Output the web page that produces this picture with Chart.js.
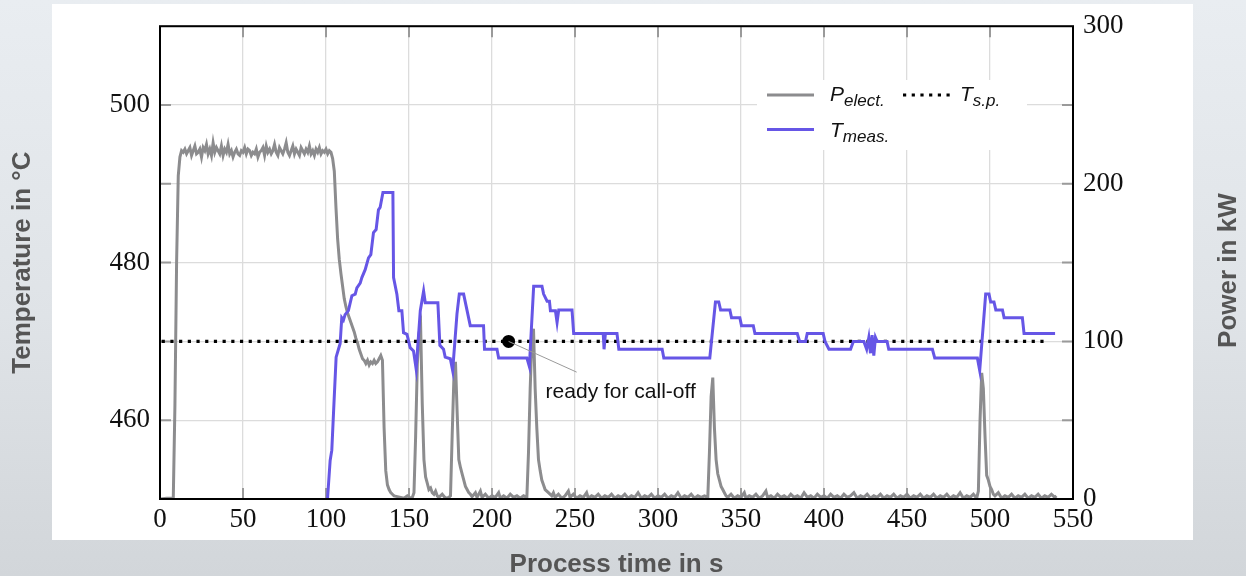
<!DOCTYPE html>
<html>
<head>
<meta charset="utf-8">
<script src="https://cdn.jsdelivr.net/npm/chart.js@4.4.1/dist/chart.umd.min.js"></script>
<style>
  html, body { margin: 0; padding: 0; }
  body {
    width: 1246px; height: 576px; overflow: hidden; position: relative;
    background: linear-gradient(to bottom, #e9edf1 0%, #dfe3e7 55%, #d2d6da 100%);
  }
  #panel { position: absolute; left: 52px; top: 4px; width: 1141px; height: 536px; background: #fff; }
  #chart { position: absolute; left: 0; top: 0; }
</style>
</head>
<body>
<div id="panel"></div>
<canvas id="chart" width="1246" height="576"></canvas>
<script>
// tick values
const timeTicks = [0, 50, 100, 150, 200, 250, 300, 350, 400, 450, 500, 550];
const tempTicks = [460, 470, 480, 490, 500];
const tempLabels = [460, 480, 500];
const powerTicks = [50, 100, 150, 200, 250];
const powerLabels = [0, 100, 200, 300];

// electrical power in kW, [time s, P]
const powerElect = [
  [0, 0], [4, 0.5], [8, 0.5], [9, 60], [10, 150], [11, 205], [12, 217], [13, 221],
  [14, 220], [15, 222], [16, 219], [17, 221], [18, 223], [19, 218], [20, 221], [21, 224], [22, 219], [23, 220],
  [24, 222], [25, 217], [26, 223], [27, 221], [28, 225], [29, 219], [30, 222], [31, 218], [32, 226], [33, 220],
  [34, 223], [35, 221], [36, 219], [37, 224], [38, 218], [39, 222], [40, 220], [41, 225], [42, 219], [43, 221],
  [44, 217], [45, 220], [46, 222], [47, 219], [48, 218], [49, 221], [50, 220], [51, 223], [52, 219], [53, 222],
  [54, 221], [55, 218], [56, 220], [57, 219], [58, 222], [59, 217], [60, 220], [61, 221], [62, 223], [63, 218],
  [64, 224], [65, 220], [66, 222], [67, 219], [68, 221], [69, 225], [70, 220], [71, 218], [72, 223], [73, 221],
  [74, 219], [75, 222], [76, 226], [77, 220], [78, 218], [79, 221], [80, 224], [81, 219], [82, 222], [83, 220],
  [84, 218], [85, 223], [86, 221], [87, 219], [88, 222], [89, 220], [90, 224], [91, 219], [92, 221], [93, 218],
  [94, 222], [95, 220], [96, 223], [97, 219], [98, 221], [99, 220], [100, 222], [101, 219], [102, 221], [103, 220],
  [104, 216], [105, 208], [106, 185], [107, 165], [108, 152], [109, 143], [110, 135], [111, 127], [112, 122],
  [113, 118], [114, 115], [115, 112], [116, 109], [117, 106], [118, 102], [119, 99], [120, 95], [121, 92],
  [122, 89], [123, 88], [124, 86], [125, 88], [126, 85], [127, 87], [128, 86], [129, 88], [130, 86], [131, 87],
  [132, 89], [133, 91], [134, 88], [135, 45], [136, 18], [137, 9], [138, 6], [139, 4], [140, 3], [141, 2],
  [143, 1.5], [145, 1], [147, 0.5], [149, 2], [151, 0.5], [152, 1], [153, 4],
  [154, 40], [155, 85], [156, 105], [157, 110], [158, 60], [159, 25], [160, 14], [161, 10], [162, 6], [163, 7],
  [164, 4], [165, 3], [166, 5], [167, 2], [168, 1], [170, 3], [172, 0.5], [174, 1], [175, 2],
  [176, 40], [177, 75], [178, 87], [179, 55], [180, 25], [181, 20], [182, 16], [183, 12], [184, 8], [185, 6],
  [186, 4], [187, 3], [188, 1.5], [190, 4], [191, 1], [193, 5], [194, 1], [196, 3], [198, 0.5], [200, 2],
  [202, 1], [204, 4], [205, 0.5], [207, 2], [209, 0.5], [211, 3], [213, 1], [215, 2], [217, 0.5], [219, 2], [221, 1],
  [222, 30], [223, 70], [224, 100], [225, 108], [226, 70], [227, 45], [228, 25], [229, 18], [230, 12], [231, 9],
  [232, 6], [233, 5], [234, 4], [236, 2], [237, 4], [238, 1],
  [240, 3], [242, 0.5], [244, 2], [246, 5], [247, 1], [249, 3], [251, 0.5], [253, 2], [255, 1], [257, 4],
  [258, 0.5], [260, 2], [262, 1], [264, 3], [266, 0.5], [268, 2], [270, 1], [272, 3], [274, 0.5], [276, 2],
  [278, 1], [280, 3], [282, 0.5], [284, 2], [286, 1], [288, 4], [290, 0.5], [292, 2], [294, 1], [296, 3],
  [298, 0.5], [300, 2], [302, 1], [304, 3], [306, 0.5], [308, 2], [310, 1], [312, 4], [314, 0.5], [316, 2],
  [318, 1], [320, 3], [322, 0.5], [324, 2], [326, 1], [328, 2], [330, 1],
  [331, 30], [332, 65], [333, 77], [334, 45], [335, 25], [336, 16], [337, 12], [338, 8], [339, 6], [340, 4],
  [341, 2], [342, 1],
  [344, 3], [346, 0.5], [348, 2], [350, 1], [352, 4], [353, 0.5], [355, 2], [357, 1], [359, 3], [361, 0.5],
  [363, 2], [365, 5], [366, 1], [368, 2], [370, 0.5], [372, 3], [374, 1], [376, 2], [378, 0.5], [380, 3],
  [382, 1], [384, 2], [386, 0.5], [388, 4], [390, 1], [392, 2], [394, 0.5], [396, 3], [398, 1], [400, 2],
  [402, 0.5], [404, 3], [406, 1], [408, 2], [410, 0.5], [412, 3], [414, 1], [416, 2], [418, 4], [420, 0.5],
  [422, 2], [424, 1], [426, 3], [428, 0.5], [430, 2], [432, 1], [434, 3], [436, 0.5], [438, 2], [440, 1],
  [442, 3], [444, 0.5], [446, 2], [448, 1], [450, 3], [452, 0.5], [454, 2], [456, 1], [458, 3], [460, 0.5],
  [462, 2], [464, 1], [466, 3], [468, 0.5], [470, 2], [472, 1], [474, 3], [476, 0.5], [478, 2], [480, 1],
  [482, 4], [484, 0.5], [486, 2], [488, 1], [490, 3], [492, 0.5],
  [493, 5], [494, 50], [495, 80], [496, 70], [497, 40], [498, 15], [499, 12], [500, 8], [501, 6], [502, 3], [503, 2],
  [505, 4], [507, 0.5], [509, 2], [511, 1], [513, 3], [515, 0.5], [517, 2], [519, 1], [521, 3], [523, 0.5],
  [525, 2], [527, 1], [529, 3], [531, 0.5], [533, 2], [535, 1], [537, 3], [539, 1], [540, 2]
];

// measured temperature in °C, [time s, T]
const tempMeas = [
  [100.9, 450], [102.5, 454.9], [103.5, 456.2], [104.5, 460.8], [106.1, 468], [107.5, 469], [108.5, 469.7],
  [109.5, 473], [110.5, 472.7], [111.5, 473.4], [113.5, 473.9], [115.6, 475.8], [117.6, 476], [118.6, 476.8],
  [120.6, 477.4], [121.6, 478.1], [123.6, 479.1], [125.6, 480.6], [127, 481], [128.6, 483.8], [130.2, 484.2],
  [131.6, 486.7], [132.6, 487], [134.3, 488.9], [140.3, 488.9], [140.7, 478.1], [142.7, 476], [143.9, 473.9],
  [145.7, 473.9], [146.7, 471.1], [148.8, 470.9], [150.7, 469.2], [152.7, 468.8], [154.3, 466.5], [156.8, 473.9],
  [158.8, 476.4], [159.8, 474.9], [167.4, 474.9], [168.6, 469.5], [170.8, 469], [171.8, 468], [174.9, 467.8],
  [176.3, 466.3], [178.9, 473.5], [180.3, 476], [182.9, 476], [186.9, 472], [194.9, 472], [195.5, 469],
  [203, 469], [204, 467.9], [221, 467.9], [222.5, 466.8], [225.1, 477], [230.1, 477], [231.1, 476],
  [233.2, 475.1], [234.6, 475.1], [235.2, 473.9], [238.2, 473.9], [239.2, 472.4], [240.2, 474], [248.2, 474],
  [249.2, 471], [267, 471], [267.5, 469], [268.3, 471], [275.3, 471], [276.4, 469], [302.5, 469], [303.5, 467.9],
  [331.2, 467.9], [334.6, 475], [336.6, 475], [337.7, 474], [343.3, 474], [344.3, 473], [349.3, 473],
  [350.3, 472], [357.4, 472], [358.4, 471], [383.9, 471], [385.3, 470], [388.9, 470], [389.9, 471],
  [399.5, 471], [400.6, 470], [403, 469], [416, 469], [417.7, 470], [424, 470], [425.7, 469], [427, 470.5],
  [428, 468.5], [429, 470.8], [430, 468.2], [431, 470.5], [432, 470], [438, 470], [439, 469], [465.3, 469],
  [466.7, 467.9], [492.4, 467.9], [493.8, 466.3], [497.4, 476], [499.4, 476], [500.4, 475], [502.4, 475],
  [503.5, 474], [507.5, 474], [508.5, 473], [519.5, 473], [520.5, 471], [539.2, 471]
];

// set point temperature
const tempSetPoint = [[1, 470], [535, 470]];

// "ready for call-off" marker
const readyPoint = [210, 470];

const toXY = arr => arr.map(([x, y]) => ({ x, y }));

const GRAY = '#8c8c8e';
const BLUE = '#6656e6';
const SERIF = '"Liberation Serif", "Times New Roman", serif';
const SANS = '"Liberation Sans", Arial, sans-serif';

const overlay = {
  id: 'overlay',
  beforeDatasetsDraw(chart) {
    const { ctx, chartArea: a, scales } = chart;
    ctx.save();
    ctx.strokeStyle = '#9a9a9a';
    ctx.lineWidth = 2;
    ctx.beginPath();
    timeTicks.forEach(v => {
      const px = scales.x.getPixelForValue(v);
      ctx.moveTo(px, a.bottom); ctx.lineTo(px, a.bottom - 11);
      ctx.moveTo(px, a.top); ctx.lineTo(px, a.top + 11);
    });
    tempTicks.forEach(v => {
      const py = scales.yT.getPixelForValue(v);
      ctx.moveTo(a.left, py); ctx.lineTo(a.left + 11, py);
    });
    powerTicks.forEach(v => {
      const py = scales.yP.getPixelForValue(v);
      ctx.moveTo(a.right, py); ctx.lineTo(a.right - 11, py);
    });
    ctx.stroke();
    ctx.restore();
  },
  afterDatasetsDraw(chart) {
    const { ctx, chartArea: a, scales } = chart;
    ctx.save();

    // annotation
    const dx = scales.x.getPixelForValue(readyPoint[0]);
    const dy = scales.yT.getPixelForValue(readyPoint[1]);
    ctx.strokeStyle = '#9a9a9a';
    ctx.lineWidth = 1;
    ctx.beginPath();
    ctx.moveTo(dx, dy);
    ctx.lineTo(scales.x.getPixelForValue(251), scales.yT.getPixelForValue(466.1));
    ctx.stroke();
    ctx.fillStyle = '#111';
    ctx.font = '21px ' + SANS;
    ctx.textBaseline = 'middle';
    ctx.textAlign = 'left';
    ctx.fillText('ready for call-off', scales.x.getPixelForValue(232.3), scales.yT.getPixelForValue(463.6));

    // frame
    ctx.strokeStyle = '#000';
    ctx.lineWidth = 2;
    ctx.strokeRect(a.left, a.top, a.right - a.left, a.bottom - a.top);

    // legend
    ctx.fillStyle = '#fff';
    ctx.fillRect(757, 80, 270, 70);
    ctx.lineWidth = 3;
    ctx.strokeStyle = GRAY;
    ctx.beginPath(); ctx.moveTo(767, 95); ctx.lineTo(814, 95); ctx.stroke();
    ctx.strokeStyle = BLUE;
    ctx.beginPath(); ctx.moveTo(767, 129.5); ctx.lineTo(814, 129.5); ctx.stroke();
    ctx.strokeStyle = '#000';
    ctx.lineWidth = 3.2;
    ctx.setLineDash([3.2, 5.5]);
    ctx.beginPath(); ctx.moveTo(903, 95); ctx.lineTo(952, 95); ctx.stroke();
    ctx.setLineDash([]);

    ctx.fillStyle = '#111';
    ctx.textBaseline = 'alphabetic';
    const sym = (main, sub, x, y) => {
      ctx.font = 'italic 21px ' + SANS;
      ctx.fillText(main, x, y);
      const w = ctx.measureText(main).width;
      ctx.font = 'italic 17px ' + SANS;
      ctx.fillText(sub, x + w, y + 5.5);
    };
    sym('P', 'elect.', 830, 100.5);
    sym('T', 's.p.', 960, 100.5);
    sym('T', 'meas.', 830, 136.5);

    // right axis title, reading bottom to top
    ctx.translate(1229, (a.top + a.bottom) / 2 + 8);
    ctx.rotate(-Math.PI / 2);
    ctx.fillStyle = '#555';
    ctx.font = 'bold 26px ' + SANS;
    ctx.textAlign = 'center';
    ctx.textBaseline = 'middle';
    ctx.fillText('Power in kW', 0, 0);
    ctx.restore();
  }
};

new Chart(document.getElementById('chart'), {
  type: 'line',
  data: {
    datasets: [
      {
        label: 'ready for call-off',
        data: toXY([readyPoint]),
        yAxisID: 'yT',
        showLine: false,
        pointRadius: 6.5,
        pointBackgroundColor: '#000',
        pointBorderWidth: 0
      },
      {
        label: 'T meas.',
        data: toXY(tempMeas),
        yAxisID: 'yT',
        borderColor: BLUE,
        borderWidth: 3,
        pointRadius: 0,
        tension: 0
      },
      {
        label: 'T s.p.',
        data: toXY(tempSetPoint),
        yAxisID: 'yT',
        borderColor: '#000',
        borderWidth: 3.2,
        borderDash: [3.2, 5.5],
        pointRadius: 0
      },
      {
        label: 'P elect.',
        data: toXY(powerElect),
        yAxisID: 'yP',
        borderColor: GRAY,
        borderWidth: 3,
        pointRadius: 0,
        tension: 0
      }
    ]
  },
  options: {
    responsive: false,
    animation: false,
    layout: { padding: { top: 24, left: 0, right: 0, bottom: 0 } },
    plugins: { legend: { display: false }, tooltip: { enabled: false } },
    scales: {
      x: {
        type: 'linear',
        min: 0,
        max: 550,
        afterFit: s => { s.height = 77; },
        afterBuildTicks: s => { s.ticks = timeTicks.map(v => ({ value: v })); },
        border: { display: false },
        grid: { color: '#dcdcdc', lineWidth: 1.3, drawTicks: false },
        ticks: { color: '#111', padding: 5, maxRotation: 0, font: { family: SERIF, size: 27 } },
        title: {
          display: true,
          text: 'Process time in s',
          color: '#555',
          padding: { top: 0, bottom: -2 },
          font: { family: SANS, size: 26, weight: 'bold', lineHeight: 1 }
        }
      },
      yT: {
        type: 'linear',
        position: 'left',
        min: 450,
        max: 510,
        afterFit: s => { s.width = 160; },
        afterBuildTicks: s => { s.ticks = [450].concat(tempTicks, [510]).map(v => ({ value: v })); },
        border: { display: false },
        grid: { color: '#dcdcdc', lineWidth: 1.3, drawTicks: false },
        ticks: {
          color: '#111',
          padding: 10,
          font: { family: SERIF, size: 27 },
          callback: v => tempLabels.includes(v) ? String(v) : ''
        },
        title: {
          display: true,
          text: 'Temperature in °C',
          color: '#555',
          padding: { top: 10, bottom: 0 },
          font: { family: SANS, size: 26, weight: 'bold', lineHeight: 1 }
        }
      },
      yP: {
        type: 'linear',
        position: 'right',
        min: 0,
        max: 300,
        afterFit: s => { s.width = 173; },
        afterBuildTicks: s => { s.ticks = powerLabels.map(v => ({ value: v })); },
        border: { display: false },
        grid: { drawOnChartArea: false, drawTicks: false },
        ticks: { color: '#111', padding: 10, font: { family: SERIF, size: 27 } }
      }
    }
  },
  plugins: [overlay]
});
</script>
</body>
</html>
